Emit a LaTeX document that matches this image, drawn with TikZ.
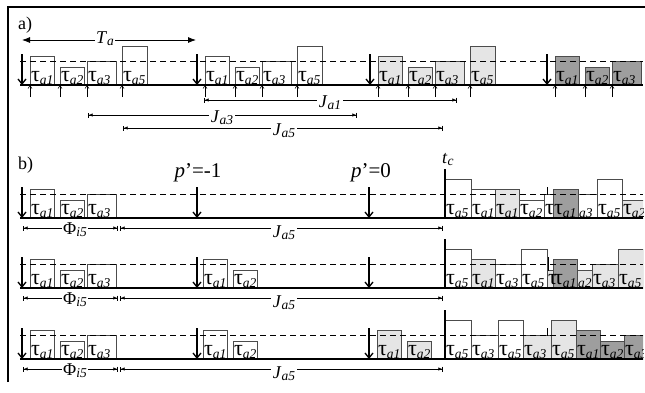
\documentclass[tikz,border=0pt]{standalone}
\usepackage{fontspec}
\setmainfont{Liberation Serif}
\usetikzlibrary{arrows.meta}
\definecolor{lightjob}{gray}{0.9}
\definecolor{darkjob}{gray}{0.62}
\definecolor{boxline}{gray}{0.3}
\newcommand{\tsub}[1]{\raisebox{-2.5pt}{\fontsize{13.5}{13.5}\selectfont\itshape #1}}
\newcommand{\tlab}[1]{τ\tsub{#1}}
\newcommand{\job}[5]{%
  \draw[jobbox,fill=#4] (#1,0) rectangle (#2,#3);
  \node[joblabel] at (#1+0.8,3.5) {#5};}
\tikzset{
  frame/.style={line width=2pt},
  panel/.style={anchor=base west, inner sep=0pt, font=\fontsize{18}{18}\selectfont},
  jobbox/.style={draw=boxline, line width=0.9pt},
  joblabel/.style={anchor=base west, inner sep=0pt, font=\fontsize{22}{22}\selectfont},
  timeline/.style={line width=1.8pt},
  thresh/.style={dash pattern=on 6pt off 4pt, line width=0.9pt},
  release/.style={-{Straight Barb[length=5pt,width=8pt]}, line width=1.3pt},
  arrival/.style={-{Straight Barb[length=3pt,width=4pt]}, line width=0.6pt},
  critical/.style={line width=2.4pt},
  period/.style={{Latex[length=8pt,width=6pt]}-{Latex[length=8pt,width=6pt]}, line width=0.8pt},
  dimline/.style={{Bar[width=5pt]Latex[length=4pt,width=3.5pt]}-{Latex[length=4pt,width=3.5pt]Bar[width=5pt]}, line width=0.7pt},
  dimlabel/.style={fill=white, inner sep=1.5pt, anchor=base, font=\fontsize{18}{18}\selectfont},
  prio/.style={anchor=base, inner sep=0pt, font=\fontsize{21}{21}\selectfont}
}
\begin{document}
\begin{tikzpicture}[x=1pt,y=-1pt]
\useasboundingbox (0,0) rectangle (645,392);
\draw[frame] (8,382) -- (8,7) -- (645,7);
\node[panel] (pa) at (18,29) {a)};
\node[panel] (pb) at (18,169) {b)};
% period of task a
\coordinate (ta-l) at (22,40);
\coordinate (ta-r) at (196,40);
\draw[period] (ta-l) -- (ta-r);
\node[dimlabel] (ta) at (105,43) {\textit{T}\tsub{a}};
\node[prio] (pm1) at (198,177) {\textit{p}’=-1};
\node[prio] (p0) at (371,177) {\textit{p}’=0};
\node[panel] (tc) at (442,163) {\textit{t}\tsub{c}};
\begin{scope}
\clip (8,0) rectangle (643,392);
% a) nominal schedule
\begin{scope}[yshift=-85pt, y=1pt]
\foreach \c/\f in {22/white, 197/white, 370/lightjob, 547/darkjob}{
  \foreach \o/\w/\h/\t in {8/24.5/28.5/a1, 38/24.5/17.5/a2, 65/29/23.5/a3, 100/25.5/38.5/a5}{
    \job{\c+\o}{\c+\o+\w}{\h}{\f}{\tlab{\t}}
    \draw[arrival] (\c+\o,-12) -- (\c+\o,0);}
  \draw[release] (\c,31) -- (\c,0);}
\draw[thresh] (20,23.5) -- (643,23.5);
\draw[timeline] (20,0) -- (643,0);
\end{scope}
\draw[dimline] (204,100) -- (457,100);
\node[dimlabel] (ja1) at (330,107) {\textit{J}\tsub{a1}};
\draw[dimline] (88,115) -- (357,115);
\node[dimlabel] (ja3) at (222,122) {\textit{J}\tsub{a3}};
\draw[dimline] (123,128) -- (443,128);
\node[dimlabel] (ja5) at (284,135) {\textit{J}\tsub{a5}};
% b) first row
\begin{scope}[yshift=-218pt, y=1pt]
\foreach \o/\w/\h/\t in {30/24.5/28.5/a1, 60/24.5/17.5/a2, 87/29/23.5/a3}{
  \job{\o}{\o+\w}{\h}{white}{\tlab{\t}}}
\foreach \xa/\xb/\h/\f/\t in {445/471/38.5/white/a5, 471/495/28.5/white/a1, 495/519/28.5/lightjob/a1, 519/544/17.5/white/a2, 553/578/28.5/darkjob/a1, 597/622/38.5/white/a5, 622/647/17.5/lightjob/a2}{
  \job{\xa}{\xb}{\h}{\f}{\tlab{\t}}}
\job{544}{553}{23.5}{white}{τ}
\job{578}{597}{23.5}{white}{\tsub{a3}}
\draw[line width=1pt] (547,31) -- (547,23.5);
\foreach \x in {22,197,369}{\draw[release] (\x,31) -- (\x,0);}
\draw[thresh] (20,23.5) -- (643,23.5);
\draw[timeline] (20,0) -- (643,0);
\draw[critical] (445,49) -- (445,0);
\draw[dimline] (23,-10) -- (118,-10);
\draw[dimline] (120,-10) -- (443,-10);
\node[dimlabel] (phi1) at (75,-16) {Φ\tsub{i5}};
\node[dimlabel] (jb1) at (284,-19) {\textit{J}\tsub{a5}};
\end{scope}
% b) second row
\begin{scope}[yshift=-288pt, y=1pt]
\foreach \o/\w/\h/\t in {30/24.5/28.5/a1, 60/24.5/17.5/a2, 87/29/23.5/a3, 203/24.5/28.5/a1, 233/24.5/17.5/a2}{
  \job{\o}{\o+\w}{\h}{white}{\tlab{\t}}}
\foreach \xa/\xb/\h/\f/\t in {445/471/38.5/white/a5, 471/495/28.5/lightjob/a1, 495/521/23.5/white/a3, 521/547/38.5/white/a5, 553/577/28.5/darkjob/a1, 592/618/23.5/lightjob/a3, 618/643/38.5/lightjob/a5}{
  \job{\xa}{\xb}{\h}{\f}{\tlab{\t}}}
\job{547}{553}{17.5}{lightjob}{τ}
\job{577}{592}{17.5}{lightjob}{\tsub{a2}}
\draw[line width=1pt] (548.5,31) -- (548.5,17.5);
\foreach \x in {22,197,369}{\draw[release] (\x,31) -- (\x,0);}
\draw[thresh] (20,23.5) -- (643,23.5);
\draw[timeline] (20,0) -- (643,0);
\draw[critical] (445,49) -- (445,0);
\draw[dimline] (23,-10) -- (118,-10);
\draw[dimline] (120,-10) -- (443,-10);
\node[dimlabel] (phi2) at (75,-16) {Φ\tsub{i5}};
\node[dimlabel] (jb2) at (284,-19) {\textit{J}\tsub{a5}};
\end{scope}
% b) third row
\begin{scope}[yshift=-359pt, y=1pt]
\foreach \o/\w/\h/\f/\t in {30/24.5/28.5/white/a1, 60/24.5/17.5/white/a2, 87/29/23.5/white/a3, 203/24.5/28.5/white/a1, 233/24.5/17.5/white/a2, 377/24.5/28.5/lightjob/a1, 407/24.5/17.5/lightjob/a2}{
  \job{\o}{\o+\w}{\h}{\f}{\tlab{\t}}}
\foreach \xa/\xb/\h/\f/\t in {445/471/38.5/white/a5, 471/498/23.5/white/a3, 498/523/38.5/white/a5, 523/551/23.5/lightjob/a3, 551/576/38.5/lightjob/a5, 576/600/28.5/darkjob/a1, 600/624/17.5/darkjob/a2, 624/653/23.5/darkjob/a3}{
  \job{\xa}{\xb}{\h}{\f}{\tlab{\t}}}
\draw[line width=1pt] (547,31) -- (547,23.5);
\foreach \x in {22,197,369}{\draw[release] (\x,31) -- (\x,0);}
\draw[thresh] (20,23.5) -- (643,23.5);
\draw[timeline] (20,0) -- (643,0);
\draw[critical] (445,49) -- (445,0);
\draw[dimline] (23,-10) -- (118,-10);
\draw[dimline] (120,-10) -- (443,-10);
\node[dimlabel] (phi3) at (75,-16) {Φ\tsub{i5}};
\node[dimlabel] (jb3) at (284,-19) {\textit{J}\tsub{a5}};
\end{scope}
\end{scope}
\end{tikzpicture}
\end{document}
